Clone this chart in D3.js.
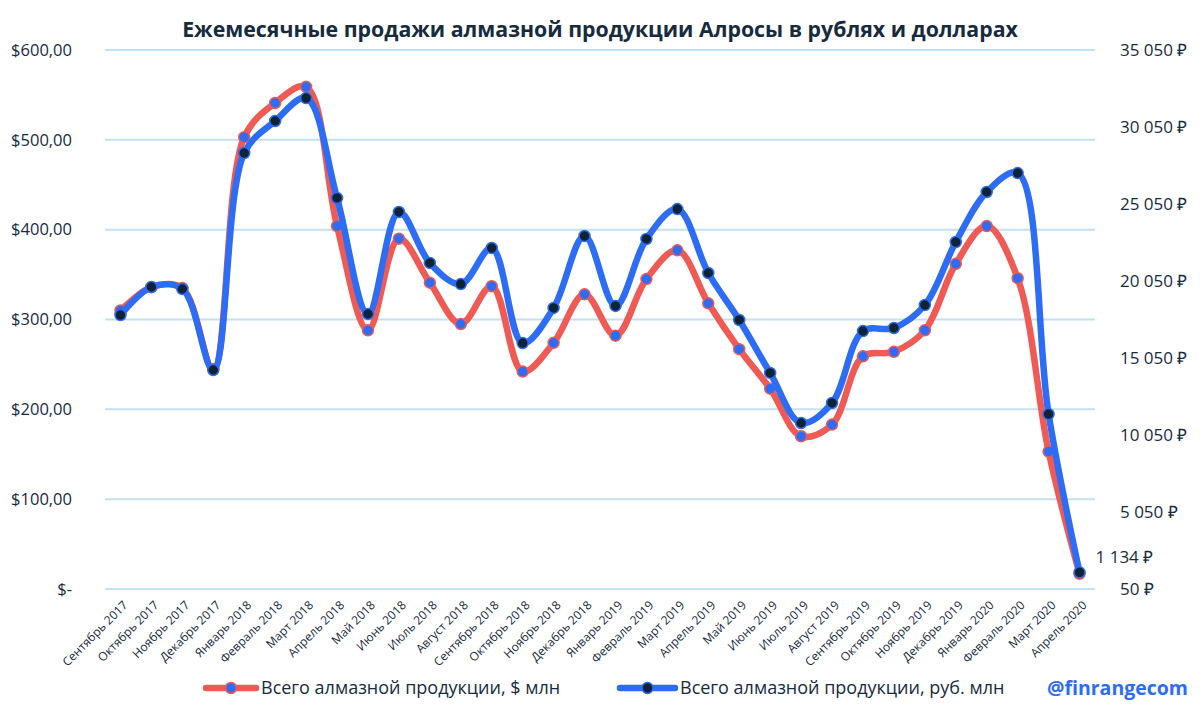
<!DOCTYPE html>
<html>
<head>
<meta charset="utf-8">
<script src="https://cdn.jsdelivr.net/npm/d3@7"></script>
<style>
  html, body { margin: 0; padding: 0; background: #fff; }
  svg { display: block; font-family: "Open Sans", "Noto Sans", sans-serif; }
</style>
</head>
<body>
<svg id="chart" width="1200" height="708"></svg>
<script>
const months = [
  'Сентябрь 2017','Октябрь 2017','Ноябрь 2017','Декабрь 2017',
  'Январь 2018','Февраль 2018','Март 2018','Апрель 2018','Май 2018','Июнь 2018',
  'Июль 2018','Август 2018','Сентябрь 2018','Октябрь 2018','Ноябрь 2018','Декабрь 2018',
  'Январь 2019','Февраль 2019','Март 2019','Апрель 2019','Май 2019','Июнь 2019',
  'Июль 2019','Август 2019','Сентябрь 2019','Октябрь 2019','Ноябрь 2019','Декабрь 2019',
  'Январь 2020','Февраль 2020','Март 2020','Апрель 2020'
];
// $ млн (left axis)
const usd = [310, 336, 335, 245, 503, 541, 559, 404, 288, 390, 341, 295, 337, 242, 274, 328,
             282, 345, 377, 318, 267, 223, 170, 183, 259, 264, 288, 362, 404, 346, 153, 17];
// руб. млн (right axis)
const rub = [17840, 19660, 19530, 14270, 28360, 30440, 31930, 25440, 17910, 24530, 21220, 19850,
             22190, 16020, 18300, 22970, 18430, 22780, 24720, 20570, 17520, 14080, 10830, 12130,
             16800, 17000, 18490, 22580, 25830, 27060, 11410, 1134];
const usdTicks = [0, 100, 200, 300, 400, 500, 600];
const rubTicks = [50, 5050, 10050, 15050, 20050, 25050, 30050, 35050];
const seriesNames = ['Всего алмазной продукции, $ млн', 'Всего алмазной продукции, руб. млн'];

const RED = '#F05A55', BLUE = '#2D6CF5', NAVY = '#0E2436', TXT = '#172B3F', GRID = '#C4E0F5';

const svg = d3.select('#chart');
const L = 105, R = 1095, T = 50, B = 589;

const x = d3.scaleBand().domain(months).range([L, R]);
const cx = m => x(m) + x.bandwidth() / 2;
const yL = d3.scaleLinear().domain([0, 600]).range([B, T]);
const yR = d3.scaleLinear().domain([50, 35050]).range([B, T]);

const fmtRub = d => d3.format(',')(d).replace(/,/g, ' ') + ' ₽';

// gridlines
svg.append('g').selectAll('line').data(usdTicks).join('line')
  .attr('x1', L).attr('x2', R)
  .attr('y1', d => yL(d)).attr('y2', d => yL(d))
  .attr('stroke', GRID).attr('stroke-width', 2);

// left axis
const gl = svg.append('g').attr('transform', 'translate(72,0)')
  .call(d3.axisLeft(yL).tickValues(usdTicks).tickSize(0).tickPadding(0)
    .tickFormat(d => d === 0 ? '$-' : '$' + d + ',00'));
gl.select('.domain').remove();
gl.selectAll('text').attr('font-size', 16.5).attr('fill', TXT).attr('font-family', 'Open Sans');

// right axis
const gr = svg.append('g').attr('transform', 'translate(1120,0)')
  .call(d3.axisRight(yR).tickValues(rubTicks).tickSize(0).tickPadding(0).tickFormat(fmtRub));
gr.select('.domain').remove();
gr.selectAll('text').attr('font-size', 17).attr('fill', TXT).attr('font-family', 'Open Sans');

// x labels
const gx = svg.append('g').attr('transform', 'translate(0,' + B + ')')
  .call(d3.axisBottom(x).tickSize(0).tickPadding(0));
gx.select('.domain').remove();
gx.selectAll('text')
  .attr('font-size', 12).attr('fill', TXT).attr('font-family', 'Open Sans')
  .attr('text-anchor', 'end')
  .attr('transform', 'translate(5,14) rotate(-45)')
  .attr('dy', '0.35em');

// lines
const lineUsd = d3.line().x((d, i) => cx(months[i])).y(d => yL(d)).curve(d3.curveCatmullRom.alpha(0.5));
const lineRub = d3.line().x((d, i) => cx(months[i])).y(d => yR(d)).curve(d3.curveCatmullRom.alpha(0.5));

svg.append('path').datum(usd).attr('d', lineUsd)
  .attr('fill', 'none').attr('stroke', RED).attr('stroke-width', 6.5).attr('stroke-linejoin', 'round');
svg.append('g').selectAll('circle').data(usd).join('circle')
  .attr('cx', (d, i) => cx(months[i])).attr('cy', d => yL(d)).attr('r', 5.5)
  .attr('fill', BLUE).attr('stroke', RED).attr('stroke-width', 1.5);

svg.append('path').datum(rub).attr('d', lineRub)
  .attr('fill', 'none').attr('stroke', BLUE).attr('stroke-width', 6.5).attr('stroke-linejoin', 'round');
svg.append('g').selectAll('circle').data(rub).join('circle')
  .attr('cx', (d, i) => cx(months[i])).attr('cy', d => yR(d)).attr('r', 5.5)
  .attr('fill', NAVY).attr('stroke', BLUE).attr('stroke-width', 1.5);

// last-point label
const last = rub.length - 1;
svg.append('text')
  .attr('x', cx(months[last]) + 16).attr('y', yR(rub[last]) - 9)
  .attr('font-size', 17).attr('fill', TXT).attr('font-family', 'Open Sans')
  .text(fmtRub(rub[last]));

// title
svg.append('text')
  .attr('x', 600).attr('y', 37).attr('text-anchor', 'middle')
  .attr('font-size', 21.3).attr('font-weight', 'bold').attr('fill', TXT)
  .text('Ежемесячные продажи алмазной продукции Алросы в рублях и долларах');

// legend
const leg = [
  {x1: 206, x2: 256, name: seriesNames[0], stroke: RED, fill: BLUE},
  {x1: 620, x2: 675, name: seriesNames[1], stroke: BLUE, fill: NAVY}
];
const lg = svg.append('g').selectAll('g').data(leg).join('g');
lg.append('line').attr('x1', d => d.x1).attr('x2', d => d.x2).attr('y1', 688).attr('y2', 688)
  .attr('stroke', d => d.stroke).attr('stroke-width', 6.5).attr('stroke-linecap', 'round');
lg.append('circle').attr('cx', d => (d.x1 + d.x2) / 2).attr('cy', 688).attr('r', 5.5)
  .attr('fill', d => d.fill).attr('stroke', d => d.stroke).attr('stroke-width', 1.5);
lg.append('text').attr('x', d => d.x2 + 5).attr('y', 688).attr('dy', '0.35em')
  .attr('font-size', 18).attr('fill', TXT).text(d => d.name);

svg.append('text')
  .attr('x', 1188).attr('y', 688).attr('dy', '0.35em').attr('text-anchor', 'end')
  .attr('font-size', 19.5).attr('font-weight', 'bold').attr('fill', BLUE)
  .text('@finrangecom');
</script>
</body>
</html>
